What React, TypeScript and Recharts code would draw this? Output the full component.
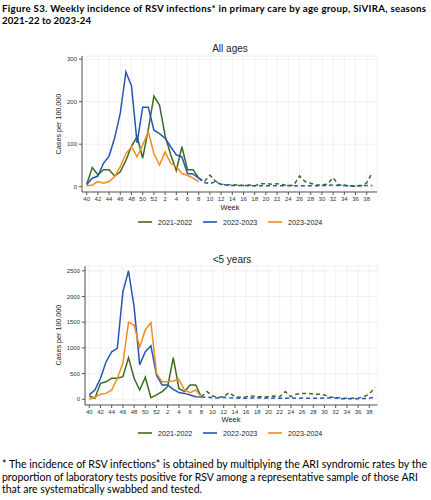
import { LineChart, Line, XAxis, YAxis, CartesianGrid, Legend } from 'recharts';

// week axis: season runs week 40 -> week 39
const weeks = [40, 41, 42, 43, 44, 45, 46, 47, 48, 49, 50, 51, 52, 1, 2, 3, 4, 5, 6, 7, 8, 9, 10, 11, 12, 13, 14, 15, 16, 17, 18, 19, 20, 21, 22, 23, 24, 25, 26, 27, 28, 29, 30, 31, 32, 33, 34, 35, 36, 37, 38, 39];
const tickWeeks = [40, 42, 44, 46, 48, 50, 52, 2, 4, 6, 8, 10, 12, 14, 16, 18, 20, 22, 24, 26, 28, 30, 32, 34, 36, 38];
const seasons = ['2021-2022', '2022-2023', '2023-2024'];

// All ages, cases per 100,000
const allAges2122 = [5, 45, 28, 40, 40, 25, 35, 62, 95, 118, 67, 135, 213, 192, 120, 75, 38, 94, 40, 40, 20, 12, 27, 13, 6, 4, 5, 4, 3, 4, 2, 7, 7, 6, 7, 5, 2, 4, 25, 12, 8, 4, 4, 6, 21, 4, 4, 1, 1, 2, 9, 33];
const allAges2223 = [5, 20, 25, 55, 72, 115, 173, 270, 237, 103, 187, 187, 133, 125, 114, 94, 75, 70, 31, 30, 20, 10, 7, 12, 5, 4, 3, 3, 3, 2, 2, 2, 2, 2, 3, 2, 3, 2, 2, 2, 2, 2, 3, 3, 4, 3, 3, 2, 2, 3, 3, 3];
const allAges2324 = [2, 4, 12, 8, 12, 24, 47, 78, 94, 70, 98, 129, 78, 51, 82, 55, 47, 31, 27, 20, 12];

// <5 years, cases per 100,000
const under5_2122 = [65, 20, 310, 340, 410, 410, 440, 810, 410, 180, 430, 30, 85, 150, 250, 810, 210, 150, 280, 280, 50, 150, 65, 40, 50, 130, 50, 40, 50, 65, 50, 50, 50, 65, 50, 150, 50, 100, 115, 115, 100, 100, 85, 40, 40, 20, 20, 20, 20, 50, 100, 230];
const under5_2223 = [85, 180, 410, 730, 925, 990, 2090, 2500, 1800, 670, 925, 1040, 470, 280, 280, 195, 130, 115, 85, 50, 45, 40, 30, 25, 40, 30, 25, 20, 20, 25, 30, 25, 20, 25, 20, 20, 25, 20, 25, 20, 20, 20, 25, 30, 25, 10, 10, 10, 10, 15, 20, 40];
const under5_2324 = [0, 40, 100, 115, 180, 410, 700, 1500, 1440, 1020, 1350, 1490, 505, 340, 340, 355, 390, 180, 130, 180, 50];

const allAgesTicks = [0, 100, 200, 300];
const under5Ticks = [0, 500, 1000, 1500, 2000, 2500];

const COLORS = ['#3d6b22', '#2456b8', '#f28c1a'];
const SOLID_END = 20; // week 8, after that the series are dashed
const FONT = '"Liberation Sans", Arial, sans-serif';
const AXIS = '#555';

function buildRows(a: number[], b: number[], c: number[]) {
  const pick = (arr: number[], i: number, dashed: boolean) => {
    if (i >= arr.length) return null;
    if (dashed) return i >= SOLID_END ? arr[i] : null;
    return i <= SOLID_END ? arr[i] : null;
  };
  return weeks.map((w, i) => ({
    week: w,
    s0: pick(a, i, false),
    s0d: pick(a, i, true),
    s1: pick(b, i, false),
    s1d: pick(b, i, true),
    s2: pick(c, i, false),
  }));
}

const renderLegend = () => (
  <div style={{ display: 'flex', paddingLeft: 138, height: 12, alignItems: 'center' }}>
    {seasons.map((s, i) => (
      <div key={s} style={{ display: 'flex', alignItems: 'center', width: 65 }}>
        <svg width={14} height={4}>
          <line x1={0} y1={2} x2={14} y2={2} stroke={COLORS[i]} strokeWidth={1.6} />
        </svg>
        <span style={{ marginLeft: 6, fontSize: 7.2, fontFamily: FONT, color: '#222' }}>{s}</span>
      </div>
    ))}
  </div>
);

type PanelProps = {
  rows: any[];
  ticks: number[];
  domain: [number, number];
  top: number;
  height: number;
  plotTop: number;
  yWidth: number;
  right: number;
  padL: number;
  padR: number;
  legendTop: number;
};

function Panel({ rows, ticks, domain, top, height, plotTop, yWidth, right, padL, padR, legendTop }: PanelProps) {
  const line = (key: string, i: number, dashed: boolean) => (
    <Line
      key={key}
      type="linear"
      dataKey={key}
      name={dashed ? key : seasons[i]}
      stroke={COLORS[i]}
      strokeWidth={1.5}
      strokeDasharray={dashed ? '4 3' : undefined}
      dot={false}
      legendType={dashed ? 'none' : 'line'}
      isAnimationActive={false}
    />
  );
  return (
    <div style={{ position: 'absolute', top, left: 0 }}>
      <LineChart width={431} height={height} data={rows} margin={{ top: plotTop, right, bottom: 20, left: 0 }}>
        <CartesianGrid stroke="#ededed" strokeWidth={0.8} />
        <XAxis
          dataKey="week"
          ticks={tickWeeks}
          interval={0}
          height={20}
          padding={{ left: padL, right: padR }}
          tickSize={3}
          tickMargin={2}
          axisLine={{ stroke: AXIS }}
          tickLine={{ stroke: AXIS }}
          tick={{ fontSize: 6, fill: '#333', fontFamily: FONT }}
        />
        <YAxis
          type="number"
          domain={domain}
          ticks={ticks}
          allowDataOverflow
          width={yWidth}
          tickSize={3}
          tickMargin={2}
          axisLine={{ stroke: AXIS }}
          tickLine={{ stroke: AXIS }}
          tick={{ fontSize: 6, fill: '#333', fontFamily: FONT }}
        />
        <Legend
          layout="horizontal"
          verticalAlign="middle"
          align="center"
          content={renderLegend}
          wrapperStyle={{ top: legendTop, left: 0, width: 431 }}
        />
        {line('s0', 0, false)}
        {line('s0d', 0, true)}
        {line('s1', 1, false)}
        {line('s1d', 1, true)}
        {line('s2', 2, false)}
      </LineChart>
    </div>
  );
}

export default function App() {
  const allRows = buildRows(allAges2122, allAges2223, allAges2324);
  const u5Rows = buildRows(under5_2122, under5_2223, under5_2324);
  const txt = { fontFamily: 'Lato, "Open Sans", sans-serif', fill: '#000' };
  const lab = { fontFamily: FONT, fill: '#222' };

  return (
    <div style={{ position: 'absolute', left: 0, top: 0, width: 431, height: 500, background: '#fff', overflow: 'hidden' }}>
      <Panel
        rows={allRows}
        ticks={allAgesTicks}
        domain={[-12.5, 307.5]}
        top={0}
        height={232}
        plotTop={56}
        yWidth={82}
        right={54}
        padL={4.7}
        padR={4.7}
        legendTop={216}
      />
      <Panel
        rows={u5Rows}
        ticks={under5Ticks}
        domain={[-111, 2593]}
        top={240}
        height={205}
        plotTop={26}
        yWidth={85}
        right={53.5}
        padL={4.3}
        padR={2.6}
        legendTop={187}
      />
      <svg width={431} height={500} style={{ position: 'absolute', left: 0, top: 0, pointerEvents: 'none' }}>
        <text x={2} y={11.5} fontSize={9.7} fontWeight="bold" textLength={424} lengthAdjust="spacing" style={txt}>
          Figure S3. Weekly incidence of RSV infections* in primary care by age group, SiVIRA, seasons
        </text>
        <text x={2} y={24} fontSize={9.7} fontWeight="bold" textLength={89} lengthAdjust="spacing" style={txt}>
          2021-22 to 2023-24
        </text>

        <text x={230} y={52} fontSize={10} textAnchor="middle" style={lab}>All ages</text>
        <text x={232} y={263} fontSize={10} textAnchor="middle" style={lab}>&lt;5 years</text>

        <text x={61} y={124} fontSize={7.2} textAnchor="middle" transform="rotate(-90 61 124)" style={lab}>Cases per 100,000</text>
        <text x={61} y={335} fontSize={7.2} textAnchor="middle" transform="rotate(-90 61 335)" style={lab}>Cases per 100,000</text>

        <text x={230} y={210} fontSize={7.5} textAnchor="middle" style={lab}>Week</text>
        <text x={231} y={422} fontSize={7.5} textAnchor="middle" style={lab}>Week</text>

        <text x={2} y={468} fontSize={10.5} textLength={425} lengthAdjust="spacingAndGlyphs" style={txt}>
          * The incidence of RSV infections* is obtained by multiplying the ARI syndromic rates by the
        </text>
        <text x={2} y={480.5} fontSize={10.5} textLength={416} lengthAdjust="spacingAndGlyphs" style={txt}>
          proportion of laboratory tests positive for RSV among a representative sample of those ARI
        </text>
        <text x={2} y={493} fontSize={10.5} textLength={200} lengthAdjust="spacingAndGlyphs" style={txt}>
          that are systematically swabbed and tested.
        </text>
      </svg>
    </div>
  );
}
